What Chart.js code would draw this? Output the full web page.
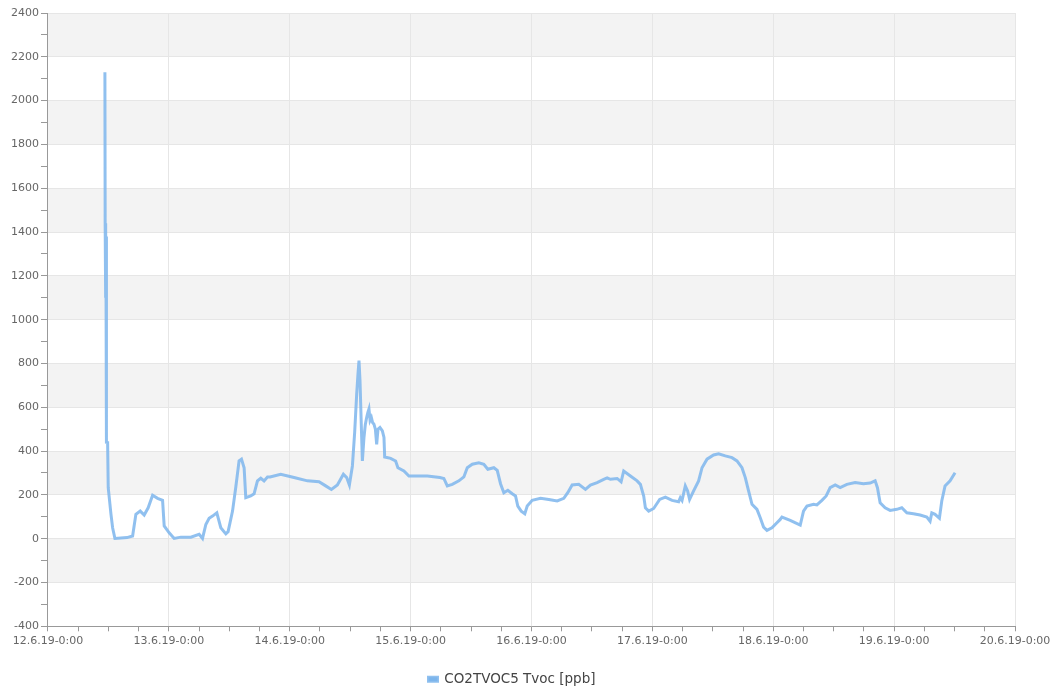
<!doctype html>
<html>

<head>
	<title>CO2TVOC5 Tvoc</title>
	<style>
		html, body {
			margin: 0;
			padding: 0;
			background: #fff;
		}

		#wrap {
			width: 1057px;
			height: 691px;
		}
	</style>
	<script src="https://cdn.jsdelivr.net/npm/chart.js@4.4.0/dist/chart.umd.min.js"></script>
</head>

<body>
	<div id="wrap"><canvas id="tvoc"></canvas></div>
	<script>
		"use strict";

		// hours since 12.6.19 0:00
		const hours = [
			11.30, 11.35, 11.40, 11.43, 11.46, 11.50, 11.53, 11.56, 11.60, 11.65, 11.84, 11.96,
			12.50, 12.83, 13.29, 14.48, 15.67, 16.80, 17.45, 18.31, 19.10, 19.89, 20.77, 21.76,
			22.75, 23.07, 24.06, 25.05, 26.38, 28.36, 30.01, 30.68, 31.34, 31.99, 32.67, 33.52,
			34.31, 35.31, 35.76, 36.64, 37.29, 37.94, 38.42, 38.94, 39.27, 40.26, 40.92, 41.59,
			42.25, 42.90, 43.58, 44.09, 46.21, 48.85, 51.51, 53.81, 55.14, 56.27, 57.46, 58.65,
			59.31, 59.84, 60.44, 60.89, 61.29, 61.55, 61.75, 61.95, 62.22, 62.42, 62.74, 63.00,
			63.27, 63.50, 63.73, 63.95, 64.21, 64.45, 64.72, 65.00, 65.26, 65.52, 65.91, 66.39,
			66.71, 66.85, 68.03, 69.02, 69.48, 70.67, 71.66, 72.99, 75.31, 77.81, 78.60, 79.28,
			80.27, 81.58, 82.57, 83.25, 84.24, 85.55, 86.54, 87.33, 88.52, 89.20, 89.85, 90.51,
			91.30, 92.17, 92.83, 93.28, 93.96, 94.67, 95.15, 96.14, 97.79, 99.43, 101.10, 102.41,
			103.20, 104.07, 105.38, 106.71, 107.70, 109.03, 110.34, 111.02, 111.67, 113.00, 113.79, 114.31,
			115.64, 116.97, 117.62, 118.28, 118.61, 119.27, 120.26, 121.45, 122.58, 123.91, 125.22, 125.55,
			125.89, 126.54, 127.00, 127.39, 128.19, 129.18, 129.86, 130.85, 132.16, 133.15, 134.48, 135.81,
			136.80, 137.79, 138.45, 139.10, 139.78, 140.77, 141.42, 142.08, 142.75, 143.74, 144.73, 145.39,
			145.73, 147.37, 149.36, 150.01, 150.69, 152.00, 152.67, 153.66, 154.51, 155.30, 156.30, 157.29,
			158.62, 160.26, 161.91, 163.24, 164.23, 164.69, 165.22, 166.21, 167.21, 168.53, 169.52, 170.52,
			171.83, 173.16, 174.49, 175.14, 175.48, 176.13, 176.99, 177.46, 178.11, 179.11, 180.10
		];

		// Tvoc [ppb]
		const tvoc = [
			2130, 1440, 1300, 1440, 1100, 1420, 1090, 1380, 1120, 440, 439, 233,
			112, 50, 1, 3, 5, 12, 111, 126, 108, 141, 198, 184,
			175, 58, 27, 1, 7, 7, 20, 1, 65, 93, 103, 118,
			50, 22, 32, 126, 236, 355, 363, 324, 187, 195, 205, 264,
			276, 264, 282, 282, 294, 279, 264, 260, 241, 225, 245, 294,
			279, 245, 332, 485, 660, 752, 813, 721, 508, 355, 462, 520,
			553, 575, 592, 540, 553, 530, 523, 500, 431, 500, 508, 492,
			462, 373, 367, 355, 324, 309, 286, 286, 286, 279, 275, 241,
			248, 264, 282, 324, 340, 346, 340, 317, 324, 312, 251, 210,
			221, 205, 195, 149, 126, 114, 149, 175, 184, 179, 172, 184,
			210, 245, 248, 225, 245, 256, 271, 278, 271, 275, 260, 309,
			286, 264, 248, 195, 141, 126, 138, 179, 190, 175, 169, 187,
			175, 241, 218, 179, 218, 264, 324, 363, 382, 388, 378, 370,
			355, 324, 279, 218, 157, 134, 96, 53, 38, 50, 73, 88,
			99, 84, 62, 126, 149, 157, 154, 175, 195, 233, 245, 233,
			248, 256, 251, 254, 264, 233, 164, 141, 129, 134, 141, 118,
			114, 108, 99, 80, 118, 111, 93, 172, 241, 264, 301
		];

		const day_labels = [
			"12.6.19-0:00", "13.6.19-0:00", "14.6.19-0:00", "15.6.19-0:00", "16.6.19-0:00",
			"17.6.19-0:00", "18.6.19-0:00", "19.6.19-0:00", "20.6.19-0:00"
		];

		const points = hours.map((h, i) => ({ x: h, y: tvoc[i] }));

		// alternating grey bands behind the plot, every other 200 ppb
		const bands = {
			id: "bands",
			beforeDraw(chart) {
				const { ctx, chartArea: area, scales: { y } } = chart;
				ctx.save();
				ctx.fillStyle = "#f3f3f3";
				for (let v = -200; v < 2400; v += 400) {
					const top = y.getPixelForValue(v + 200);
					const bot = y.getPixelForValue(v);
					ctx.fillRect(area.left, top, area.right - area.left, bot - top);
				}
				ctx.restore();
			}
		};

		Chart.defaults.font.family = "'DejaVu Sans', sans-serif";
		Chart.defaults.font.size = 11;
		Chart.defaults.color = "#666";

		new Chart(document.getElementById("tvoc"), {
			type: "line",
			data: {
				datasets: [{
					label: "CO2TVOC5 Tvoc [ppb]",
					data: points,
					borderColor: "rgba(124, 181, 236, 0.85)",
					backgroundColor: "#7cb5ec",
					borderWidth: 3,
					pointRadius: 0,
					tension: 0
				}]
			},
			options: {
				responsive: true,
				maintainAspectRatio: false,
				animation: false,
				layout: {
					padding: { left: 9, right: 42, top: 13, bottom: -5 }
				},
				scales: {
					x: {
						type: "linear",
						min: 0,
						max: 192,
						border: { color: "#999" },
						grid: {
							color: ctx => ctx.tick && ctx.tick.value % 24 === 0 ? "#e6e6e6" : "rgba(0,0,0,0)",
							tickColor: "#999",
							tickLength: 5
						},
						ticks: {
							stepSize: 6,
							autoSkip: false,
							maxRotation: 0,
							minRotation: 0,
							padding: 3,
							callback: v => v % 24 === 0 ? day_labels[v / 24] : ""
						},
						afterFit(scale) {
							scale.height += 21;
						}
					},
					y: {
						min: -400,
						max: 2400,
						border: { color: "#999" },
						grid: {
							color: ctx => ctx.tick && ctx.tick.value % 200 === 0 ? "#e6e6e6" : "rgba(0,0,0,0)",
							tickColor: "#999",
							tickLength: 7
						},
						ticks: {
							stepSize: 100,
							autoSkip: false,
							padding: 2,
							callback: v => v % 200 === 0 ? v : ""
						}
					}
				},
				plugins: {
					legend: {
						position: "bottom",
						labels: {
							boxWidth: 9,
							boxHeight: 4,
							padding: 1,
							color: "#444",
							font: { size: 13.5 }
						}
					},
					tooltip: { enabled: false }
				}
			},
			plugins: [bands]
		});
	</script>
</body>

</html>
